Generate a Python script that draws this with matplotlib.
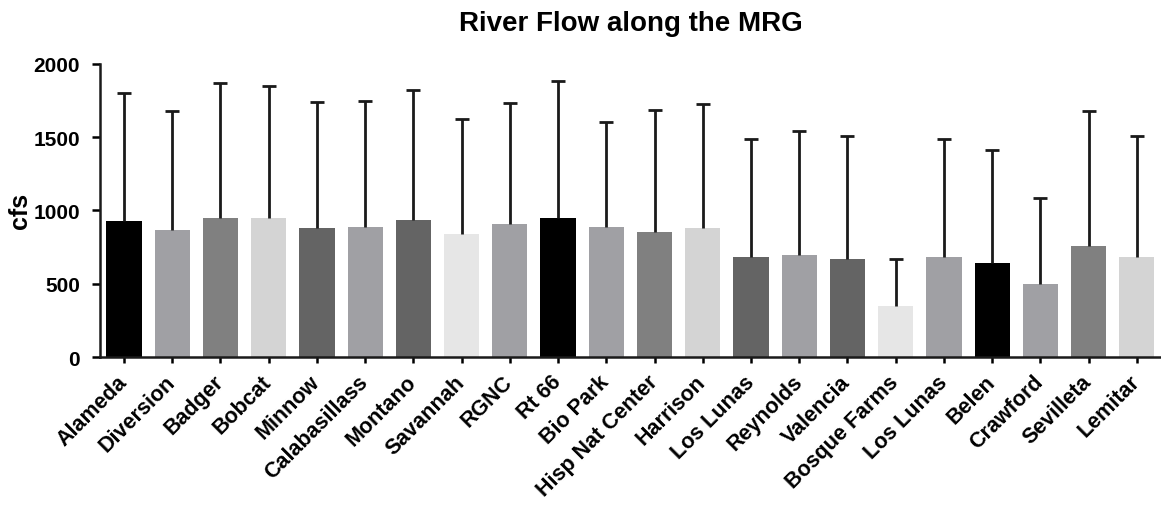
import matplotlib
matplotlib.use("Agg")
import matplotlib.pyplot as plt
import numpy as np

plt.rcParams['font.family'] = ['Liberation Sans', 'DejaVu Sans']

sites = ["Alameda", "Diversion", "Badger", "Bobcat", "Minnow", "Calabasillass",
         "Montano", "Savannah", "RGNC", "Rt 66", "Bio Park", "Hisp Nat Center",
         "Harrison", "Los Lunas", "Reynolds", "Valencia", "Bosque Farms",
         "Los Lunas", "Belen", "Crawford", "Sevilleta", "Lemitar"]
mean_cfs = [927, 868, 945, 945, 881, 886, 932, 840, 909, 945, 886, 854,
            881, 683, 694, 666, 351, 683, 639, 498, 758, 680]
upper_cfs = [1799, 1680, 1868, 1845, 1742, 1747, 1824, 1623, 1733, 1884, 1603,
             1683, 1726, 1486, 1541, 1505, 666, 1486, 1413, 1082, 1678, 1505]
palette = ["#000000", "#a0a0a4", "#808080", "#d4d4d4", "#646464",
           "#a0a0a4", "#646464", "#e6e6e6", "#a0a0a4"]
yticks = [0, 500, 1000, 1500, 2000]

colors = [palette[i % len(palette)] for i in range(len(sites))]
err = np.array(upper_cfs) - np.array(mean_cfs)
x = np.arange(len(sites))

fig = plt.figure(figsize=(11.61, 5.10), dpi=100)
ax = fig.add_axes([0.086, 0.298, 0.914, 0.575])

ax.bar(x, mean_cfs, width=0.73, color=colors, linewidth=0, zorder=2)
_, caps, _ = ax.errorbar(x, mean_cfs, yerr=[np.zeros_like(err), err], fmt='none',
                         ecolor='#1a1a1a', elinewidth=2.0, capsize=5, capthick=2.0,
                         zorder=3)
caps[0].set_visible(False)

ax.set_xlim(-0.5, len(sites) - 0.5)
ax.set_ylim(0, 2000)
ax.set_yticks(yticks)
ax.set_yticklabels([str(v) for v in yticks], fontsize=15, fontweight='bold')
ax.set_xticks(x)
ax.set_xticklabels(sites, rotation=45, ha='right', va='center', rotation_mode='anchor',
                   fontsize=15.5, fontweight='bold')
ax.set_ylabel("cfs", fontsize=18, fontweight='bold', labelpad=1)
ax.set_title("River Flow along the MRG", fontsize=20, fontweight='bold', pad=24)

for s in ['top', 'right']:
    ax.spines[s].set_visible(False)
for s in ['left', 'bottom']:
    ax.spines[s].set_linewidth(1.8)
    ax.spines[s].set_color('#1a1a1a')
ax.tick_params(axis='y', direction='out', length=5.8, width=1.8, pad=8.5)
ax.tick_params(axis='x', direction='out', length=4.5, width=1.8, pad=11)

fig.savefig("out.png", dpi=100)
